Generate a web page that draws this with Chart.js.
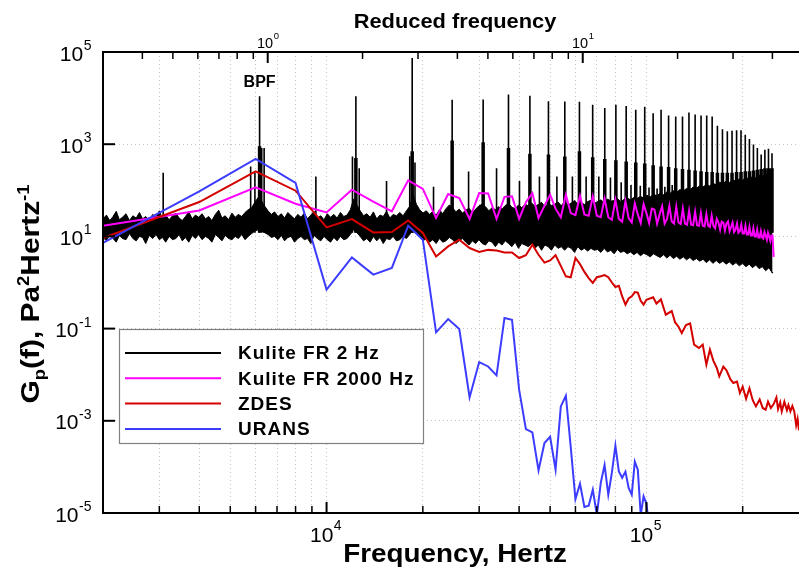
<!DOCTYPE html>
<html><head><meta charset="utf-8">
<script src="https://cdn.jsdelivr.net/npm/chart.js@4/dist/chart.umd.min.js"></script>
<style>html,body{margin:0;padding:0;background:#fff}#wrap{width:799px;height:568px}</style>
</head><body><div id="wrap"><canvas id="c" width="799" height="568"></canvas></div>
<script>
// ---------------- DATA ----------------
const freqMin = 2000, freqMax = 300000;
const bpfHz = 6175;               // blade passing frequency (reduced frequency = 1)
const bpfLabelLevel = 2.2e4;

// URANS (2000 Hz resolution)
const uransFreq = [2000,4000,6000,8000,10000,12000,14000,16000,18000,20000,
 22000,24000,26000,28000,30000,32000,34000,36000,38000,40000,
 42000,44000,46000,48000,50000,52000,54000,56000,58000,60000,
 62000,64000,66000,68000,70000,72000,74000,76000,78000,80000,
 82000,84000,86000,88000,90000,92000,94000,96000,98000,100000,102000];
const uransVal = [7.2,95,478,144,0.70,3.5,1.48,2.07,17.1,8.5,
 0.083,0.161,0.098,0.00322,0.0188,0.0151,0.00966,0.17,0.156,0.00473,
 6.6e-4,5.6e-4,8.4e-5,3.3e-4,4.5e-4,8.7e-5,2.05e-3,3.5e-3,2.7e-4,2.0e-5,
 4.3e-5,1.35e-5,1.44e-5,3.2e-5,9e-6,4.5e-5,1.1e-4,2.5e-5,7.5e-5,2.9e-4,
 8e-5,5.8e-5,7.9e-5,3.5e-5,2.5e-5,1.3e-4,8.7e-5,9e-6,2.3e-5,1.6e-5,5e-6];

// ZDES
const zdesFreq = [2000,4000,6000,8000,10000,12000,14000,16000,18000,20000,
 22000,24000,26000,28000,30000,32000,34000,36000,38000,40000,
 42000,44000,46000,48000,50000,52000,54000,56000,58000,60000,
 62000,64000,66000,68000,70000,72000,74000,76000,78000,80000,
 82000,84000,86000,88000,90000,92000,94000,96000,98000,
 100000,105000,107500,111000,115000,120000,123000,126000,129000,133000,
 137000,141000,146000,150000,154000,158000,162000,166000,169000,174000,
 178000,183000,187000,192000,196000,200000,205000,210000,215000,220000,
 226000,231000,236000,240000,245000,250000,255000,258000,262000,265000,
 270000,275000,278000,282000,286000,290000,294000,297000,300000];
const zdesVal = [9.2,55.7,257,98,15.7,23.8,12.2,12.4,22.2,11.9,
 3.68,6.07,8.5,5.6,4.6,5.1,4.95,4.5,4.5,3.4,
 3.9,6.6,4.0,2.7,3.0,3.9,2.3,1.36,1.3,3.4,
 2.5,1.7,1.25,0.98,1.3,1.37,1.45,1.3,1.0,0.8,
 0.85,0.5,0.33,0.45,0.5,0.62,0.6,0.4,0.33,
 0.42,0.48,0.35,0.43,0.20,0.24,0.136,0.11,0.080,0.12,
 0.13,0.045,0.038,0.045,0.0165,0.035,0.020,0.014,0.0092,0.015,
 0.0124,0.008,0.0066,0.0071,0.004,0.0055,0.003,0.0051,0.0028,0.00205,
 0.0029,0.0019,0.00174,0.0026,0.0019,0.0023,0.0032,0.0018,0.0025,0.0016,
 0.0026,0.0017,0.0022,0.0016,0.0021,0.0016,0.0008,0.0011,0.00062];

// Kulite, frequency resolution 2000 Hz (bins 2000 ... 250000 Hz)
const kulite2000Freq = [2000,4000,6000,8000,10000,12000,14000,16000,18000,20000,
 22000,24000,26000,28000,30000,32000,34000,36000,38000,40000,
 42000,44000,46000,48000,50000,52000,54000,56000,58000,60000,
 62000,64000,66000,68000,70000,72000,74000,76000,78000,80000,
 82000,84000,86000,88000,90000,92000,94000,96000,98000,100000,
 102000,104000,106000,108000,110000,112000,114000,116000,118000,120000,
 122000,124000,126000,128000,130000,132000,134000,136000,138000,140000,
 142000,144000,146000,148000,150000,152000,154000,156000,158000,160000,
 162000,164000,166000,168000,170000,172000,174000,176000,178000,180000,
 182000,184000,186000,188000,190000,192000,194000,196000,198000,200000,
 202000,204000,206000,208000,210000,212000,214000,216000,218000,220000,
 222000,224000,226000,228000,230000,232000,234000,236000,238000,240000,
 242000,244000,246000,248000,250000];
const kulite2000Val = [17,36.6,116,51,33,103,57,35,164,107,
 25,83,68,24,87,85,24,72,74,24,
 55,87,25,46,80,40,26,80,32,29,
 76,30,28,74,28,26,66,26,23,62,
 24,21,58,25,20,52,30,19.5,50,32,
 19.5,40,38,19,30,45,19,24,46,21,
 19,44,20,18.5,40,19,18,36,18,17.5,
 34,17.5,17,32,17,16.5,30,17,16,28,
 17,15,24,20,14,21,20,13.5,19,21,
 13,16,20,12.5,14,19,12,13,18,11.5,
 11.5,17,11,11,16,10.5,10.5,15,10,10,
 14,9.5,9.5,13,9.5,9,12.5,10.5,8.5,12,
 10,8,10.5,10.5,3.6];

// Kulite, frequency resolution 2 Hz: broadband noise band (upper / lower edge)
const kulite2Freq = [2000,2050,2100,2150,2200,2250,2300,2360,2420,2480,
 2540,2600,2660,2720,2790,2860,2930,3000,3070,3140,
 3220,3300,3380,3460,3540,3620,3710,3800,3890,3980,
 4080,4180,4280,4380,4490,4600,4710,4820,4940,5060,
 5180,5300,5430,5560,5690,5830,5970,6110,6260,6410,
 6560,6720,6880,7050,7220,7390,7570,7750,7940,8130,
 8320,8520,8720,8930,9140,9360,9590,9820,10050,10290,
 10540,10790,11050,11320,11590,11870,12150,12440,12740,13050,
 13360,13680,14010,14350,14690,15040,15400,15770,16150,16540,
 16940,17350,17770,18200,18640,19090,19550,20020,20500,20990,
 21490,22010,22540,23080,23630,24200,24780,25370,25980,26600,
 27240,27890,28560,29250,29950,30670,31410,32160,32930,33720,
 34530,35360,36210,37080,37970,38880,39810,40770,41750,42750,
 43780,44830,45910,47010,48140,49300,50480,51690,52930,54200,
 55500,56830,58200,59600,61030,62490,63990,65530,67100,68710,
 70360,72050,73780,75550,77360,79220,81120,83070,85060,87100,
 89190,91330,93520,95770,98070,100400,102800,105300,107800,110400,
 113100,115800,118600,121400,124300,127300,130400,133500,136700,140000,
 143400,146800,150300,153900,157600,161400,165300,169300,173400,177500,
 181800,186200,190600,195200,199900,204700,209600,214600,219800,225100,
 230500,236000,241700,247500,248000];
const kulite2High = [24,29,22,27,35,23,26,31,22,28,
 25,33,24,27,22,30,26,36,24,29,
 23,28,32,25,22,27,34,24,29,26,
 31,24,27,22,30,37,25,28,23,32,
 26,30,27,33,38,42,55,70,60,45,
 36,30,34,27,31,25,33,28,24,30,
 26,32,24,29,35,25,28,23,31,26,
 30,25,33,27,29,38,65,48,36,28,
 31,26,34,24,29,27,35,25,30,28,
 33,28,36,45,80,50,38,32,36,30,
 35,29,38,31,40,48,42,34,39,32,
 37,41,33,39,46,50,44,36,42,38,
 44,39,47,52,43,40,48,42,50,46,
 53,45,49,55,44,52,47,50,56,46,
 58,48,53,60,50,55,49,57,61,52,
 57,62,54,65,58,60,66,57,63,68,
 62,70,66,74,68,78,72,82,76,86,
 80,92,86,98,90,104,96,110,102,118,
 110,126,118,134,124,142,132,150,140,158,
 148,168,158,178,166,190,176,200,186,214,
 200,228,214,250,280];
const kulite2Low = [9.5,8,11,9,7.5,10.5,9,8.5,11.5,9,
 8,10,9.5,7,10.5,9,11,8.5,9.5,7.5,
 10,8.5,9,11,8,9.5,7.5,10.5,9,11,
 8.5,10,9,7.5,11,9.5,8,10.5,9,8.5,
 10,9,11,8.5,10,11.5,13,14,13,12,
 11,9.5,10,8.5,10.5,8,9.5,10,7.5,9,
 10,8.5,9,7,10.5,9,8,10,8.5,7.5,
 9.5,8,10,8.5,9,11,14,12,10,8,
 9,7.5,10,8,9.5,7,9,8.5,10,8,
 8.5,10,9,11,15,12,10,8,9,7.5,
 8.5,7,9,7.5,8,9.5,8.5,7,8,9,
 7.5,6.5,8,7,8.5,7,6.5,8,7.5,6,
 7.5,6.5,8,7,6,7.5,5.5,7,6.5,6,
 7,5.5,6.5,5,6.5,6,5,6.5,5.5,6,
 5,6,5.5,4.5,6,5,5.5,4.8,5.5,5,
 5.2,4.5,5.5,4.6,5,4.2,5.2,4.5,4.8,4.2,
 4.6,4,4.5,3.8,4.3,4,3.6,4.2,3.8,3.5,
 4,3.4,3.9,3.3,3.7,3.2,3.6,3.1,3.5,3.0,
 3.3,2.9,3.2,2.7,3.1,2.6,3.0,2.6,2.9,2.5,
 2.8,2.4,2.7,2.3,2.6,2.2,2.5,2.1,2.4,2.0,
 2.2,1.8,2.1,1.6,1.7];

// Kulite 2 Hz: tones at the BPF harmonics (peak and broadened base level)
const harmonicFreq = [6175,12350,18525,24700,30875,37050,43225,49400,55575,61750,
 67925,74100,80275,86450,92625,98800,104975,111150,117325,123500,
 129675,135850,142025,148200,154375,160550,166725,172900,179075,185250,
 191425,197600,203775,209950,216125,222300,228475,234650,240825,247000];
const harmonicPeak = [10900,10900,74000,9200,9300,11900,11300,8500,8400,8300,
 7200,6100,7200,6700,5600,6500,4700,5600,4200,4000,
 4000,4900,4400,4200,4200,4000,2500,2100,1900,1950,
 2000,2000,1600,1300,990,830,600,760,800,640];
const harmonicBase = [900,500,700,1200,1100,830,620,600,540,700,
 520,480,450,420,400,380,350,330,320,300,
 290,280,270,260,250,250,240,240,240,240,
 250,250,260,260,270,280,290,300,300,300];
// secondary tones (half harmonics and side lines)
const sideFreq = [3085,5790,5970,6270,6380,9260,12050,12650,15400,18200,
 18900,21600,27800,34000,40100,46300,52500,58700,64800,71000,
 77200,83400,89500,95700,101900,108000,114200,120400];
const sideVal = [241,330,240,830,830,200,540,300,160,550,
 400,120,255,300,160,200,200,200,200,200,
 190,150,130,125,115,110,120,130];
const toneFloor = 12;

// axes ticks
const xTickValues = [3000,4000,5000,6000,7000,8000,9000,10000,20000,30000,40000,50000,60000,70000,80000,90000,100000,200000];
const xMajor = [10000, 100000];
const xMajorExp = ['4', '5'];
const topTickValues = [0.4,0.5,0.6,0.7,0.8,0.9,1,2,3,4,5,6,7,8,9,10,20,30,40];
const topMajor = [1, 10];
const topMajorExp = ['0', '1'];
const yTickValues = [1e-5,1e-3,1e-1,1e1,1e3,1e5];
const yTickExp = ['-5','-3','-1','1','3','5'];

// ---------------- CHART ----------------
const FONT = "'Liberation Sans', Arial, Helvetica, sans-serif";
Chart.defaults.font.family = FONT;
Chart.defaults.color = '#000';

const pts = (fs, vs) => fs.map((f, i) => ({x: f, y: vs[i]}));
function lines(fs, vs, floor) {
  const out = [];
  fs.forEach((f, i) => { out.push({x: f, y: floor}, {x: f, y: vs[i]}, {x: f, y: null}); });
  return out;
}
const COLORS = {k2: '#000000', k2000: '#ff00ff', zdes: '#d40000', urans: '#3c3cff'};

// "10" with a raised exponent
function pow10(ctx, exp, x, baseline, align, bs, es, rise) {
  ctx.font = bs + 'px ' + FONT;
  const wb = ctx.measureText('10').width;
  ctx.font = es + 'px ' + FONT;
  const we = ctx.measureText(exp).width;
  const w = wb + we;
  const x0 = align === 'right' ? x - w : x - w / 2;
  ctx.textAlign = 'left'; ctx.textBaseline = 'alphabetic';
  ctx.font = bs + 'px ' + FONT; ctx.fillText('10', x0, baseline);
  ctx.font = es + 'px ' + FONT; ctx.fillText(exp, x0 + wb + 0.5, baseline - rise);
}
function stretched(ctx, text, x, y, sx, font) {
  ctx.save(); ctx.translate(x, y); ctx.scale(sx, 1);
  ctx.font = font; ctx.textAlign = 'center'; ctx.textBaseline = 'alphabetic';
  ctx.fillText(text, 0, 0); ctx.restore();
}

const framePlugin = {
  id: 'frame',
  afterDatasetsDraw(chart) {
    const {ctx, chartArea: ca, scales} = chart;
    const x = scales.x, xt = scales.xTop, y = scales.y;
    ctx.save();
    ctx.strokeStyle = '#000';
    ctx.lineWidth = 2;
    ctx.beginPath();
    ctx.moveTo(ca.left, ca.top); ctx.lineTo(ca.right, ca.top);
    ctx.moveTo(ca.left, ca.top - 1); ctx.lineTo(ca.left, ca.bottom + 1);
    ctx.moveTo(ca.left - 1, ca.bottom); ctx.lineTo(ca.right, ca.bottom);
    ctx.stroke();
    const tick = (x0, y0, x1, y1, w) => { ctx.lineWidth = w; ctx.beginPath(); ctx.moveTo(x0, y0); ctx.lineTo(x1, y1); ctx.stroke(); };
    xTickValues.forEach(v => {
      const p = x.getPixelForValue(v); const major = xMajor.includes(v);
      tick(p, ca.bottom, p, ca.bottom - (major ? 11 : 7), major ? 2 : 1.5);
    });
    topTickValues.forEach(v => {
      const p = xt.getPixelForValue(v); const major = topMajor.includes(v);
      tick(p, ca.top, p, ca.top + (major ? 11 : 7), major ? 2 : 1.5);
    });
    yTickValues.forEach(v => { const p = y.getPixelForValue(v); tick(ca.left, p, ca.left + 12, p, 2); });
    ctx.fillStyle = '#000';
    ctx.font = 'bold 16px ' + FONT;
    ctx.textAlign = 'center'; ctx.textBaseline = 'middle';
    ctx.fillText('BPF', x.getPixelForValue(bpfHz), y.getPixelForValue(bpfLabelLevel));
    ctx.restore();
  },
  afterDraw(chart) {
    const {ctx, chartArea: ca, scales} = chart;
    const x = scales.x, xt = scales.xTop, y = scales.y;
    ctx.save();
    ctx.fillStyle = '#000';
    // tick labels
    yTickValues.forEach((v, i) => pow10(ctx, yTickExp[i], ca.left - 12, y.getPixelForValue(v) + 8.5, 'right', 21, 14, 10.5));
    xMajor.forEach((v, i) => pow10(ctx, xMajorExp[i], x.getPixelForValue(v) - 1, ca.bottom + 29, 'center', 21, 14, 12));
    topMajor.forEach((v, i) => pow10(ctx, topMajorExp[i], xt.getPixelForValue(v), ca.top - 4, 'center', 14.5, 9.5, 9));
    // axis titles
    stretched(ctx, 'Frequency, Hertz', 455, 562, 1.07, 'bold 26px ' + FONT);
    stretched(ctx, 'Reduced frequency', 455, 28, 1.04, 'bold 21px ' + FONT);
    // y title with subscript / superscripts
    const segs = [['G', 26, 0], ['p', 16, 6], ['(f), Pa', 26, 0], ['2', 16, -10], ['Hertz', 26, 0], ['-1', 16, -10]];
    ctx.translate(39, 294); ctx.rotate(-Math.PI / 2); ctx.scale(1.15, 1);
    let W = 0;
    segs.forEach(s => { ctx.font = 'bold ' + s[1] + 'px ' + FONT; s.push(ctx.measureText(s[0]).width); W += s[3]; });
    let cx = -W / 2;
    ctx.textAlign = 'left'; ctx.textBaseline = 'alphabetic';
    segs.forEach(s => { ctx.font = 'bold ' + s[1] + 'px ' + FONT; ctx.fillText(s[0], cx, s[2]); cx += s[3]; });
    ctx.restore();
    // legend
    const items = chart.data.datasets.filter(d => d.inLegend);
    const bx = 119, by = 329, bw = 304, bh = 114;
    ctx.save();
    ctx.fillStyle = '#fff';
    ctx.fillRect(bx, by, bw, bh);
    ctx.strokeStyle = '#808080'; ctx.lineWidth = 1.2;
    ctx.strokeRect(bx + 0.5, by + 0.5, bw, bh);
    ctx.font = 'bold 19px ' + FONT;
    try { ctx.letterSpacing = '1px'; } catch (e) {}
    ctx.textAlign = 'left'; ctx.textBaseline = 'middle';
    items.forEach((d, i) => {
      const yy = by + 24 + i * 25.3;
      ctx.strokeStyle = d.borderColor; ctx.lineWidth = 2;
      ctx.beginPath(); ctx.moveTo(bx + 6, yy); ctx.lineTo(bx + 102, yy); ctx.stroke();
      ctx.fillStyle = '#000';
      ctx.fillText(d.label, bx + 119, yy + 1);
    });
    ctx.restore();
  }
};

new Chart(document.getElementById('c'), {
  type: 'line',
  data: {
    datasets: [
      {label: 'Kulite FR 2 Hz', inLegend: true, data: pts(kulite2Freq, kulite2High), borderColor: COLORS.k2, backgroundColor: COLORS.k2, borderWidth: 1, fill: '+1', order: 10, pointRadius: 0},
      {label: 'Kulite FR 2 Hz (lower)', data: pts(kulite2Freq, kulite2Low), borderColor: COLORS.k2, borderWidth: 1, fill: false, order: 10, pointRadius: 0},
      {label: 'Kulite FR 2 Hz (tone bases)', data: lines(harmonicFreq, harmonicBase, toneFloor), borderColor: COLORS.k2, borderWidth: 3.5, fill: false, order: 9, pointRadius: 0, spanGaps: false},
      {label: 'Kulite FR 2 Hz (tones)', data: lines(harmonicFreq, harmonicPeak, toneFloor), borderColor: COLORS.k2, borderWidth: 1.6, fill: false, order: 9, pointRadius: 0, spanGaps: false},
      {label: 'Kulite FR 2 Hz (side tones)', data: lines(sideFreq, sideVal, toneFloor), borderColor: COLORS.k2, borderWidth: 1.6, fill: false, order: 9, pointRadius: 0, spanGaps: false},
      {label: 'Kulite FR 2000 Hz', inLegend: true, data: pts(kulite2000Freq, kulite2000Val), borderColor: COLORS.k2000, borderWidth: 2, fill: false, order: 3, pointRadius: 0},
      {label: 'ZDES', inLegend: true, data: pts(zdesFreq, zdesVal), borderColor: COLORS.zdes, borderWidth: 2, fill: false, order: 2, pointRadius: 0},
      {label: 'URANS', inLegend: true, data: pts(uransFreq, uransVal), borderColor: COLORS.urans, borderWidth: 2, fill: false, order: 1, pointRadius: 0}
    ]
  },
  options: {
    responsive: false,
    devicePixelRatio: 1,
    animation: false,
    events: [],
    layout: {padding: 0},
    plugins: {legend: {display: false}, tooltip: {enabled: false}},
    elements: {line: {borderJoinStyle: 'miter', borderCapStyle: 'butt'}},
    scales: {
      x: {
        type: 'logarithmic', position: 'bottom', min: freqMin, max: freqMax,
        afterBuildTicks: s => { s.ticks = xTickValues.map(v => ({value: v})); },
        afterFit: s => { s.height = 55; },
        ticks: {display: false, autoSkip: false},
        grid: {color: '#c4c4c4', lineWidth: 1, drawTicks: false},
        border: {display: false, dash: [1, 3]},
        title: {display: false, text: 'Frequency, Hertz'}
      },
      xTop: {
        type: 'logarithmic', position: 'top', min: freqMin / bpfHz, max: freqMax / bpfHz,
        afterBuildTicks: s => { s.ticks = topTickValues.map(v => ({value: v})); },
        afterFit: s => { s.height = 52; },
        ticks: {display: false, autoSkip: false},
        grid: {display: false, drawTicks: false},
        border: {display: false},
        title: {display: false, text: 'Reduced frequency'}
      },
      y: {
        type: 'logarithmic', position: 'left', min: 1e-5, max: 1e5,
        afterBuildTicks: s => { s.ticks = yTickValues.map(v => ({value: v})); },
        afterFit: s => { s.width = 103; },
        ticks: {display: false, autoSkip: false},
        grid: {color: '#c4c4c4', lineWidth: 1, drawTicks: false},
        border: {display: false, dash: [1, 3]},
        title: {display: false, text: 'Gp(f), Pa2Hertz-1'}
      }
    }
  },
  plugins: [framePlugin]
});
</script></body></html>
